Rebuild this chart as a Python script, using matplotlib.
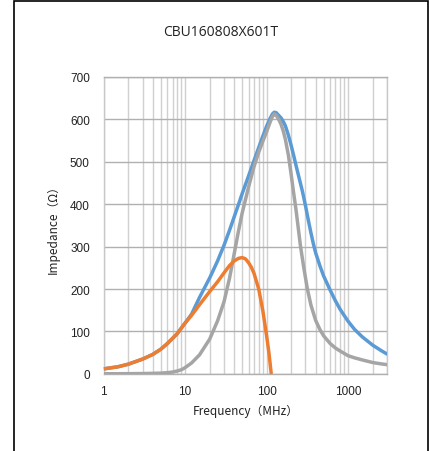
#!/usr/bin/env python3
"""
Impedance vs frequency curves for the CBU160808X601T ferrite bead (Z, R, X).
"""

import matplotlib
matplotlib.use("Agg")
import matplotlib.pyplot as plt
from matplotlib.patches import Rectangle
from matplotlib.ticker import FixedLocator, LogLocator, NullFormatter

TITLE = "CBU160808X601T"
X_LABEL = "Frequency（MHz）"
Y_LABEL = "Impedance（Ω）"

# |Z| (blue)
z_freq = [1, 1.5, 2, 3, 4, 5, 6, 8, 10, 12, 15, 20, 25, 30, 35, 40, 45, 50, 60, 70,
          80, 90, 100, 110, 118, 124, 131, 140, 150, 160, 170, 185, 200, 215, 230, 250,
          275, 300, 325, 350, 375, 400, 450, 500, 600, 700, 800, 1000, 1200, 1500, 2000,
          2500, 3000]
z_vals = [12, 17, 23, 35, 46, 58, 71, 95, 120, 141, 180, 226, 266, 303, 338, 370, 398,
          424, 466, 502, 533, 560, 583, 601, 612, 616, 615, 609, 603, 594, 584, 562, 538,
          514, 490, 462, 430, 396, 362, 332, 306, 285, 255, 231, 198, 172, 152, 124, 105,
          87, 68, 56, 47]

# R (gray)
r_freq = [1, 2, 3, 4, 5, 6, 7, 8, 9, 10, 12, 15, 20, 25, 30, 35, 40, 45, 50, 60, 70,
          80, 90, 100, 110, 118, 124, 131, 140, 150, 160, 170, 185, 200, 215, 230, 260,
          285, 315, 350, 400, 450, 500, 600, 700, 800, 1000, 1200, 1500, 2000, 2500, 3000]
r_vals = [0.5, 0.7, 1, 1.5, 2, 3, 4.5, 7, 10, 15, 26, 45, 82, 125, 170, 225, 283, 335,
          378, 440, 488, 522, 548, 570, 592, 606, 612, 609, 600, 588, 572, 552, 515, 470,
          425, 385, 302, 252, 202, 162, 126, 105, 90, 72, 61, 54, 43, 38, 33, 27, 24, 22]

# X (orange), plotted only up to where it reaches zero
x_freq = [1, 1.5, 2, 3, 4, 5, 6, 8, 10, 12, 15, 20, 25, 30, 35, 40, 45, 50, 55, 60,
          65, 70, 80, 90, 100, 107, 114]
x_vals = [12, 17, 23, 35, 46, 58, 71, 95, 120, 138, 163, 194, 217, 238, 255, 266, 272,
          274, 271, 262, 251, 237, 200, 148, 90, 48, 0]

Y_TICKS = [0, 100, 200, 300, 400, 500, 600, 700]
X_TICKS = [1, 10, 100, 1000]


def main():
    fig = plt.figure(figsize=(4.29, 4.52), dpi=100)
    ax = fig.add_axes([0.2417, 0.1704, 0.6603, 0.6580])

    ax.plot(z_freq, z_vals, color="#5b9bd5", linewidth=2.5, solid_joinstyle="round",
            solid_capstyle="round", zorder=3)
    ax.plot(r_freq, r_vals, color="#a5a5a5", linewidth=2.5, solid_joinstyle="round",
            solid_capstyle="round", zorder=4)
    ax.plot(x_freq, x_vals, color="#ed7d31", linewidth=2.5, solid_joinstyle="round",
            solid_capstyle="butt", zorder=5, clip_on=False)

    ax.set_xscale("log")
    ax.set_xlim(1, 3000)
    ax.set_ylim(0, 700)

    ax.xaxis.set_major_locator(FixedLocator(X_TICKS))
    ax.set_xticklabels([str(t) for t in X_TICKS])
    ax.xaxis.set_minor_locator(LogLocator(base=10, subs=range(2, 10), numticks=20))
    ax.xaxis.set_minor_formatter(NullFormatter())
    ax.set_yticks(Y_TICKS)

    # gridlines: vertical lighter, horizontal darker
    ax.grid(True, axis="x", which="both", color="#d0d0d0", linewidth=1.0, zorder=0)
    ax.grid(True, axis="y", which="major", color="#b0b0b0", linewidth=1.0, zorder=0)
    ax.set_axisbelow(True)
    for side in ["left", "right"]:
        ax.spines[side].set_color("#c8c8c8")
    for side in ["top", "bottom"]:
        ax.spines[side].set_color("#b0b0b0")
    for sp in ax.spines.values():
        sp.set_linewidth(1.0)

    ax.tick_params(axis="both", which="both", length=0)
    ax.tick_params(axis="y", pad=10)
    ax.tick_params(axis="x", pad=8)
    for lbl in ax.get_xticklabels() + ax.get_yticklabels():
        lbl.set_fontfamily("Liberation Sans")
        lbl.set_fontsize(8.5)
        lbl.set_color("#222222")

    ax.set_xlabel(X_LABEL, family=["Noto Sans CJK JP", "DejaVu Sans"], fontsize=8.5,
                  labelpad=5, color="#222222")
    ax.set_ylabel(Y_LABEL, family=["Noto Sans CJK JP", "DejaVu Sans"], fontsize=8.5,
                  labelpad=7, color="#222222")

    fig.text(0.515, 0.927, TITLE, ha="center", va="center", fontsize=10,
             family="Open Sans", color="#222222")

    # outer chart frame (bottom edge falls outside the image)
    fig.patches.append(Rectangle((14 / 429, -0.05), 414 / 429, 1.05 - 1.5 / 452,
                                 transform=fig.transFigure, fill=False,
                                 edgecolor="black", linewidth=1.2))

    fig.savefig("out.png", dpi=100)


if __name__ == "__main__":
    main()
